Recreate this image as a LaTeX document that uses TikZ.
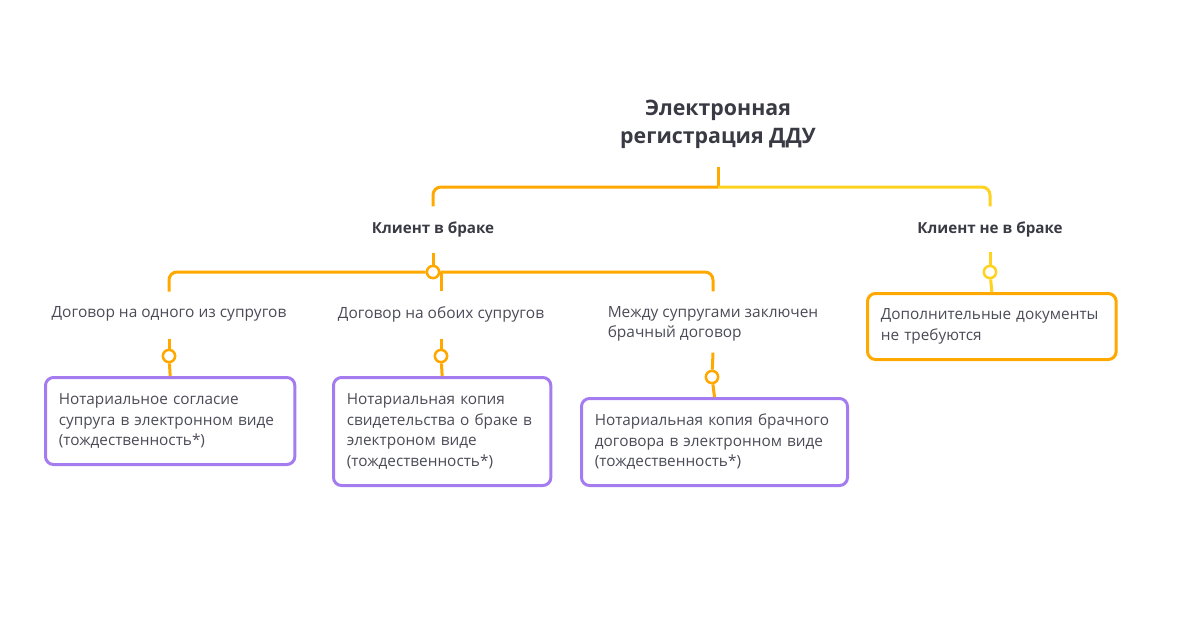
\documentclass[tikz,border=0pt]{standalone}
\usepackage{fontspec}
\setmainfont{Open Sans}
\usepackage{xcolor}
\definecolor{ddOrange}{HTML}{FFA800}
\definecolor{ddYellow}{HTML}{FFD21F}
\definecolor{ddPurple}{HTML}{A47CF0}
\definecolor{ddText}{HTML}{4B4B57}
\definecolor{ddHead}{HTML}{3A3A45}
\usepackage{tikz}
\usetikzlibrary{calc}

\begin{document}
\begin{tikzpicture}[x=0.75pt, y=-0.75pt,
  branch/.style={line width=2.25pt, ddOrange, rounded corners=6pt},
  knot/.style={circle, draw=ddOrange, line width=1.9pt, fill=white, inner sep=0pt, minimum size=9.2pt},
  lbl/.style={inner sep=0pt, text=ddText, font=\fontsize{11.6}{15.4}\selectfont},
  head/.style={inner sep=0pt, text=ddHead, font=\bfseries\fontsize{11.4}{13}\selectfont},
  docbox/.style={draw=ddPurple, line width=2.25pt, rounded corners=6pt, anchor=north west,
    align=left, inner xsep=10pt, inner ysep=0pt, text=ddText, font=\fontsize{11.5}{15.4}\selectfont}]
  \useasboundingbox (0,0) rectangle (1200,640);
  % title and first fork
  \node[inner sep=0pt, align=center, text=ddHead, font=\bfseries\fontsize{16}{21}\selectfont]
    (title) at (718,124) {Электронная\\ регистрация ДДУ};
  \coordinate (fork) at (718,187);
  \node[head] (married) at (433,229) {Клиент в браке};
  \node[head] (single) at (990,229) {Клиент не в браке};
  \draw[branch] ([yshift=-14pt]title.south) -- (fork);
  \draw[branch] (fork) -| ([yshift=11pt]married.north);
  \draw[branch, ddYellow] (fork) -| ([yshift=11pt]single.north);
  % client in marriage
  \node[knot] (kMarried) at (433,272) {};
  \node[lbl] (oneSp) at (169,314) {Договор на одного из супругов};
  \node[lbl] (bothSp) at (441,314) {Договор на обоих супругов};
  \node[lbl, align=left] (contract) at (713,324) {Между супругами заключен\\ брачный договор};
  \draw[branch] ([yshift=-12pt]married.south) -- (kMarried);
  \draw[branch] (kMarried) -| ([yshift=11pt]oneSp.north);
  \draw[branch] (kMarried) -| ([yshift=11pt]contract.north);
  \draw[branch] ([xshift=6pt]kMarried.center) -- ([yshift=11pt]bothSp.north);
  % documents required
  \node[knot] (kOne) at (169,356) {};
  \node[knot] (kBoth) at (441,356) {};
  \node[knot] (kContract) at (712,377) {};
  \node[docbox, text width=167pt, minimum height=65.25pt] (noteOne) at (44,376)
    {Нотариальное согласие\\ супруга в электронном виде\\ (тождественность*)};
  \node[docbox, text width=143pt, minimum height=81pt] (noteBoth) at (332,376)
    {Нотариальная копия\\ свидетельства о браке в\\ электроном виде\\ (тождественность*)};
  \node[docbox, text width=179.5pt, minimum height=65.25pt] (noteContract) at (580,397)
    {Нотариальная копия брачного\\ договора в электронном виде\\ (тождественность*)};
  \draw[branch] ([yshift=-13pt]oneSp.south) -- (kOne);
  \draw[branch] (kOne) -- (noteOne.north);
  \draw[branch] ([yshift=-13pt]bothSp.south) -- (kBoth);
  \draw[branch] (kBoth) -- (noteBoth.north);
  \draw[branch] ([yshift=-8pt]contract.south) -- (kContract);
  \draw[branch] (kContract) -- (noteContract.north);
  % client not in marriage
  \node[knot, draw=ddYellow] (kSingle) at (990,272) {};
  \node[docbox, draw=ddOrange, text width=166.5pt, minimum height=49.5pt] (noDocs) at (866,292)
    {Дополнительные документы\\ не требуются};
  \draw[branch, ddYellow] ([yshift=-11pt]single.south) -- (kSingle);
  \draw[branch, ddYellow] (kSingle) -- (noDocs.north);
\end{tikzpicture}
\end{document}
